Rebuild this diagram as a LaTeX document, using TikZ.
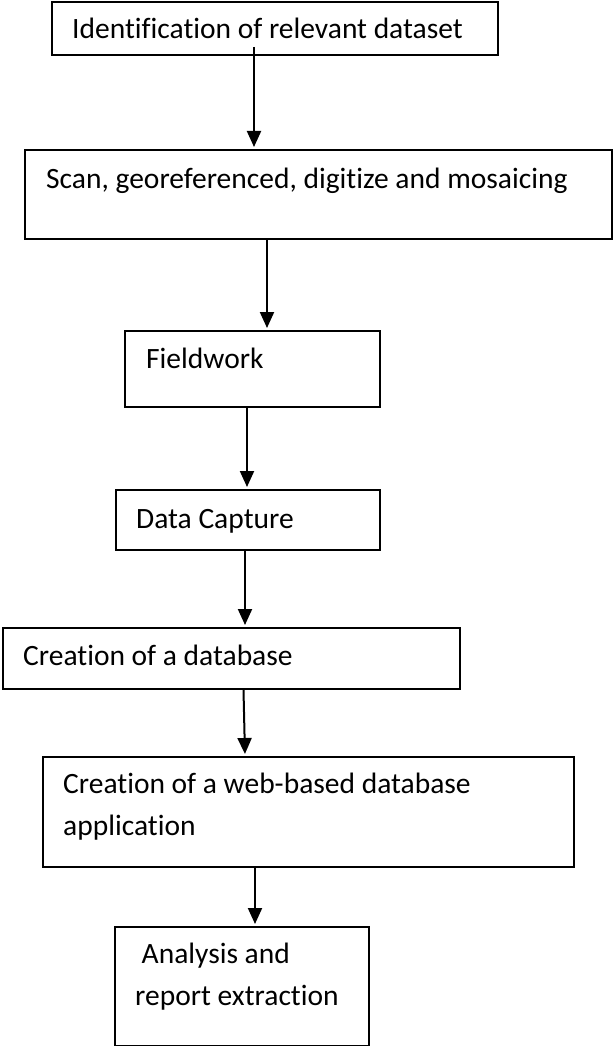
\documentclass[tikz,border=0pt]{standalone}
\usepackage{fontspec}
\setmainfont{Carlito}[Ligatures=CommonOff]
\usetikzlibrary{arrows.meta}
\begin{document}
\begin{tikzpicture}[x=1pt,y=-1pt,
  boxstyle/.style={draw, line width=2pt, inner sep=0pt, anchor=north west},
  lbl/.style={anchor=base west, inner sep=0pt, font=\fontsize{29.5}{35}\selectfont},
  arr/.style={line width=2pt, shorten >=2pt, -{Triangle[length=16pt,width=14pt]}}]
\useasboundingbox (0,0) rectangle (613,1046);
\fill[white] (0,0) rectangle (613,1046);
% boxes
\node[boxstyle, minimum width=446pt, minimum height=53pt] (b1) at (51,1) {};
\node[boxstyle, minimum width=587pt, minimum height=89pt] (b2) at (24,149) {};
\node[boxstyle, minimum width=255pt, minimum height=76pt] (b3) at (124,330) {};
\node[boxstyle, minimum width=264pt, minimum height=60pt] (b4) at (115,489) {};
\node[boxstyle, minimum width=457pt, minimum height=61pt] (b5) at (2,627) {};
\node[boxstyle, minimum width=531pt, minimum height=110pt] (b6) at (42,756) {};
\node[boxstyle, minimum width=254pt, minimum height=119pt] (b7) at (114,926) {};
% texts
\node[lbl] (t1) at (72,39) {Identification of relevant dataset};
\node[lbl] (t2) at (46,188) {Scan, georeferenced, digitize and mosaicing};
\node[lbl] (t3) at (146,368) {Fieldwork};
\node[lbl] (t4) at (136,528) {Data Capture};
\node[lbl] (t5) at (23,665) {Creation of a database};
\node[lbl] (t6a) at (63,793) {Creation of a web-based database};
\node[lbl] (t6b) at (63,835) {application};
\node[lbl] (t7a) at (141.5,963) {Analysis and};
\node[lbl] (t7b) at (135,1005) {report extraction};
% arrows
\draw[arr] (254,47) -- (254,0 |- b2.north);
\draw[arr] (267,0 |- b2.south) -- (267,0 |- b3.north);
\draw[arr] (247,0 |- b3.south) -- (247,0 |- b4.north);
\draw[arr] (245,0 |- b4.south) -- (245,0 |- b5.north);
\draw[arr] (243.5,0 |- b5.south) -- (245,0 |- b6.north);
\draw[arr] (255,0 |- b6.south) -- (255,0 |- b7.north);
\end{tikzpicture}
\end{document}
